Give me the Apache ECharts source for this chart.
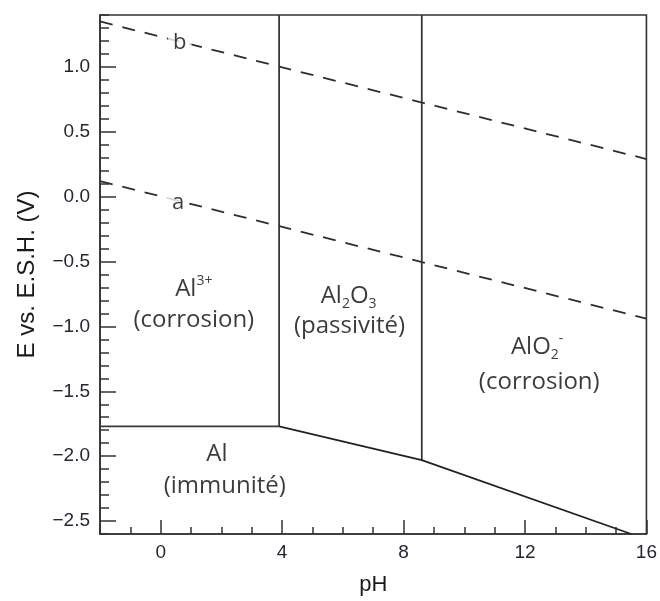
<!DOCTYPE html>
<html><head><meta charset="utf-8">
<script src="https://cdn.jsdelivr.net/npm/echarts@6/dist/echarts.min.js"></script>
<style>html,body{margin:0;padding:0;background:#fff}#c{width:660px;height:601px}</style>
</head><body><div id="c"></div>
<script>
// Axis ticks
const xTicks = [0, 4, 8, 12, 16];
const yTicks = [-2.5, -2.0, -1.5, -1.0, -0.5, 0.0, 0.5, 1.0];
// Water stability lines (dashed)
const lineA = [[-2, 0.12], [16, -0.94]];
const lineB = [[-2, 1.35], [16, 0.29]];
// Domain boundaries (solid)
const boundAl3Al = [[-2, -1.77], [3.9, -1.77]];
const boundAl3Al2O3 = [[3.9, -1.77], [3.9, 1.4]];
const boundAl2O3AlO2 = [[8.6, -2.03], [8.6, 1.4]];
const boundAlSolid = [[3.9, -1.77], [8.6, -2.03], [15.5, -2.6]];
// Domain labels [pH, E, text]
const domainLabels = [
  [1.09, -0.715, 'Al{sup|3+}'],
  [1.09, -0.954, '(corrosion)'],
  [6.19, -0.769, 'Al{sub|2}O{sub|3}'],
  [6.22, -1.0, '(passivité)'],
  [12.40, -1.162, 'AlO{sub|2}{sup|-}'],
  [12.47, -1.431, '(corrosion)'],
  [1.85, -1.985, 'Al'],
  [2.11, -2.231, '(immunité)']
];
const lineLabels = [
  [0.63, 1.185, 'b'],
  [0.57, -0.046, 'a']
];

const ink = '#333';
const tickFont = {fontFamily: 'Liberation Sans', fontSize: 19, color: '#262633'};
const lineStyleSolid = {color: '#383838', width: 1.8, type: 'solid'};
const lineStyleDash = {color: '#2e2e2e', width: 1.8, type: [13, 10]};

function lineSeries(data, style) {
  return {type: 'line', data: data, showSymbol: false, symbol: 'none', lineStyle: style,
    xAxisIndex: 0, yAxisIndex: 0, z: 2, silent: true, animation: false};
}

const txt = '#0a0a0a';
const richStyles = {
  base: {fontFamily: 'Open Sans', fontSize: 24, color: txt, lineHeight: 30},
  sup: {fontFamily: 'Open Sans', fontSize: 14, color: txt, lineHeight: 14, verticalAlign: 'top'},
  sub: {fontFamily: 'Open Sans', fontSize: 14, color: txt, lineHeight: 14, verticalAlign: 'bottom'}
};

function wrapBase(t) {
  return t.replace(/(^|\})([^{}]+)(?=\{|$)/g, function (m, p, s) { return p + '{base|' + s + '}'; });
}

const option = {
  animation: false,
  backgroundColor: '#fff',
  grid: {left: 100, right: 13, top: 15, bottom: 66, show: true, borderColor: ink, borderWidth: 1.6, backgroundColor: 'transparent'},
  xAxis: [
    {type: 'value', min: -2, max: 16, interval: 1, position: 'bottom',
      axisLine: {show: true, onZero: false, lineStyle: {color: ink, width: 1.6}},
      axisTick: {show: true, inside: true, length: 7, lineStyle: {color: ink, width: 1.5}},
      axisLabel: {show: false}, splitLine: {show: false}},
    {type: 'value', min: -2, max: 16, position: 'bottom',
      axisLine: {show: false, onZero: false},
      axisTick: {show: true, inside: true, length: 14, customValues: xTicks, lineStyle: {color: ink, width: 1.5}},
      axisLabel: Object.assign({show: true, margin: 9, customValues: xTicks, formatter: v => String(v)}, tickFont),
      splitLine: {show: false},
      name: 'pH', nameLocation: 'middle', nameGap: 40,
      nameTextStyle: {fontFamily: 'Liberation Sans', fontSize: 22, color: '#1a1a1a'}}
  ],
  yAxis: [
    {type: 'value', min: -2.6, max: 1.4, interval: 0.1, position: 'left',
      axisLine: {show: true, onZero: false, lineStyle: {color: ink, width: 1.6}},
      axisTick: {show: true, inside: true, length: 9, lineStyle: {color: ink, width: 1.5}},
      axisLabel: {show: false}, splitLine: {show: false}},
    {type: 'value', min: -2.6, max: 1.4, position: 'left',
      axisLine: {show: false, onZero: false},
      axisTick: {show: true, inside: true, length: 16, customValues: yTicks, lineStyle: {color: ink, width: 1.5}},
      axisLabel: Object.assign({show: true, margin: 10, customValues: yTicks,
        formatter: v => v.toFixed(1).replace('-', '\u2212')}, tickFont),
      splitLine: {show: false},
      name: 'E vs. E.S.H. (V)', nameLocation: 'middle', nameGap: 61, nameRotate: 90,
      nameTextStyle: {fontFamily: 'Liberation Sans', fontSize: 24, color: '#1a1a1a'}}
  ],
  series: [
    lineSeries(lineA, lineStyleDash),
    lineSeries(lineB, lineStyleDash),
    lineSeries(boundAl3Al, lineStyleSolid),
    lineSeries(boundAl3Al2O3, lineStyleSolid),
    lineSeries(boundAl2O3AlO2, lineStyleSolid),
    lineSeries(boundAlSolid, Object.assign({}, lineStyleSolid, {color: '#222'})),
    {type: 'scatter', xAxisIndex: 0, yAxisIndex: 0, symbolSize: 0, z: 5, silent: true,
      data: domainLabels.map(d => ({value: [d[0], d[1]],
        label: {show: true, position: 'inside', formatter: wrapBase(d[2]), rich: richStyles}}))},
    {type: 'scatter', xAxisIndex: 0, yAxisIndex: 0, symbolSize: 0, z: 5, silent: true,
      data: lineLabels.map(d => ({value: [d[0], d[1]],
        label: {show: true, position: 'inside', formatter: d[2], fontFamily: 'Open Sans', fontSize: 22,
          color: txt, backgroundColor: '#fff', padding: [0, 5]}}))}
  ]
};
const chart = echarts.init(document.getElementById('c'), null, {renderer: 'canvas'});
chart.setOption(option);
</script></body></html>
